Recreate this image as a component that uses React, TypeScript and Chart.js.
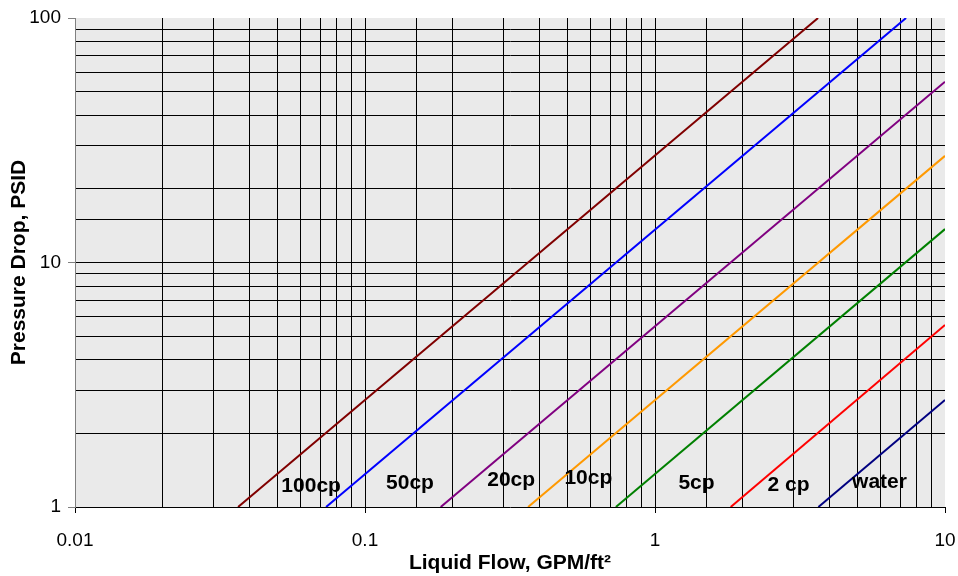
import React, { useEffect, useRef } from "react";
import { Chart, registerables } from "chart.js";

Chart.register(...registerables);

const seriesNames = ["100cp", "50cp", "20cp", "10cp", "5cp", "2 cp", "water"];
const seriesColors = ["#800000", "#0000FF", "#800080", "#FF9900", "#008000", "#FF0000", "#000080"];
const flowStart = [0.0365, 0.0734, 0.1824, 0.365, 0.733, 1.824, 3.66];
const flowEnd = [3.65, 7.34, 10, 10, 10, 10, 10];
const dropStart = [1, 1, 1, 1, 1, 1, 1];
const dropEnd = [100, 100, 54.9, 27.3, 13.7, 5.55, 2.74];
const labelFlow = [0.0652, 0.1429, 0.3192, 0.589, 1.39, 2.886, 5.944];
const labelDrop = [1.213, 1.254, 1.283, 1.314, 1.254, 1.224, 1.266];

const xMin = 0.01;
const xMax = 10;
const yMin = 1;
const yMax = 100;
const xTitle = "Liquid Flow, GPM/ft\u00B2";
const yTitle = "Pressure Drop, PSID";

const FONT = "'Liberation Sans', Arial, sans-serif";

const isMajor = (v: number) => {
  const l = Math.log10(v);
  return Math.abs(l - Math.round(l)) < 1e-6;
};
const fmt = (v: number) => {
  if (v >= 1) return String(Math.round(v));
  return v.toFixed(-Math.round(Math.log10(v)));
};

const bgPlugin = {
  id: "plotBg",
  beforeDraw(chart: any) {
    const { ctx, chartArea } = chart;
    ctx.save();
    ctx.fillStyle = "#EAEAEA";
    ctx.fillRect(chartArea.left, chartArea.top, chartArea.right - chartArea.left, chartArea.bottom - chartArea.top);
    ctx.restore();
  },
};

const labelPlugin = {
  id: "seriesLabels",
  afterDatasetsDraw(chart: any) {
    const { ctx, scales } = chart;
    ctx.save();
    ctx.font = `bold 21px ${FONT}`;
    ctx.fillStyle = "#000";
    ctx.textAlign = "center";
    ctx.textBaseline = "middle";
    seriesNames.forEach((name, i) => {
      const px = scales.x.getPixelForValue(labelFlow[i]);
      const py = scales.y.getPixelForValue(labelDrop[i]);
      ctx.fillText(name, px, py);
    });
    ctx.restore();
  },
};

export default function App() {
  const ref = useRef<HTMLCanvasElement | null>(null);
  useEffect(() => {
    document.body.style.margin = "0";
    if (!ref.current) return;
    const datasets = seriesNames.map((name, i) => ({
      label: name,
      data: [
        { x: flowStart[i], y: dropStart[i] },
        { x: flowEnd[i], y: dropEnd[i] },
      ],
      borderColor: seriesColors[i],
      backgroundColor: seriesColors[i],
      borderWidth: 2,
      pointRadius: 0,
      tension: 0,
      fill: false,
    }));
    const chart = new Chart(ref.current, {
      type: "line",
      data: { datasets },
      plugins: [bgPlugin, labelPlugin],
      options: {
        animation: false,
        responsive: false,
        devicePixelRatio: 1,
        layout: { padding: { top: 18, right: 13, left: 0, bottom: 0 } },
        plugins: { legend: { display: false }, tooltip: { enabled: false } },
        scales: {
          x: {
            type: "logarithmic",
            min: xMin,
            max: xMax,
            afterFit: (s: any) => {
              s.height = 69;
              s.paddingLeft = 0;
              s.paddingRight = 0;
            },
            border: { display: true, color: "#000", width: 1 },
            grid: {
              color: (c: any) =>
                c.tick && (Math.abs(c.tick.value - xMax) < 1e-9 || Math.abs(c.tick.value - xMin) < 1e-9) ? "rgba(0,0,0,0)" : "#000",
              lineWidth: 1,
              tickLength: 6,
              tickColor: (c: any) => (c.tick && isMajor(c.tick.value) ? "#000" : "rgba(0,0,0,0)"),
            },
            ticks: {
              autoSkip: false,
              maxRotation: 0,
              padding: 16,
              color: "#000",
              font: { family: FONT, size: 19 },
              callback: (v: any) => (isMajor(Number(v)) ? fmt(Number(v)) : ""),
            },
            title: {
              display: true,
              text: xTitle,
              color: "#000",
              font: { family: FONT, size: 21, weight: "bold", lineHeight: 1.2 },
              padding: { top: 2, bottom: 0 },
            },
          },
          y: {
            type: "logarithmic",
            min: yMin,
            max: yMax,
            afterFit: (s: any) => {
              s.width = 75;
              s.paddingTop = 0;
              s.paddingBottom = 0;
            },
            border: { display: true, color: "#808080", width: 1 },
            grid: {
              color: (c: any) =>
                c.tick && (Math.abs(c.tick.value - yMax) < 1e-9 || Math.abs(c.tick.value - yMin) < 1e-9) ? "rgba(0,0,0,0)" : "#000",
              lineWidth: 1,
              tickLength: 7,
              tickColor: (c: any) => (c.tick && isMajor(c.tick.value) ? "#808080" : "rgba(0,0,0,0)"),
            },
            ticks: {
              autoSkip: false,
              padding: 7,
              color: "#000",
              font: { family: FONT, size: 19 },
              callback: (v: any) => (isMajor(Number(v)) ? fmt(Number(v)) : ""),
            },
            title: {
              display: true,
              text: yTitle,
              color: "#000",
              font: { family: FONT, size: 21, weight: "bold", lineHeight: 1.2 },
              padding: { top: 7, bottom: 0 },
            },
          },
        },
      } as any,
    });
    return () => chart.destroy();
  }, []);
  return (
    <div style={{ width: 958, height: 576, background: "#fff" }}>
      <canvas ref={ref} width={958} height={576} style={{ display: "block" }} />
    </div>
  );
}
